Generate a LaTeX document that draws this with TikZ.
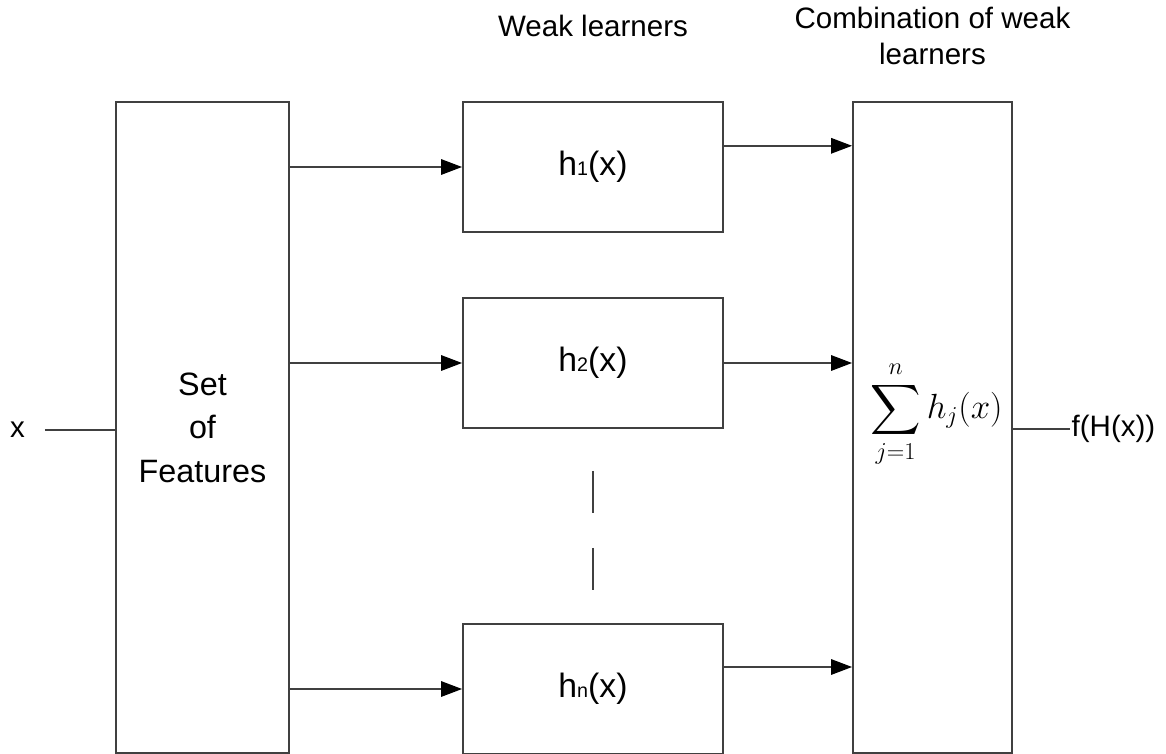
\documentclass[tikz,border=0pt]{standalone}
\usepackage{amsmath}
\usepackage{fontspec}
\setmainfont{Liberation Sans}
\usetikzlibrary{arrows.meta, positioning, calc}

% small index on the baseline, as in h1(x)
\newcommand{\wl}[1]{h{\fontsize{14}{14}\selectfont #1}(x)}

\begin{document}
\begin{tikzpicture}[
	box/.style={rectangle,draw=black!75,line width=1.3pt,inner sep=0pt,align=center},
	learner/.style={box,minimum width=6.5cm,minimum height=3.25cm,font=\fontsize{24}{28}\selectfont},
	arrow/.style={-{Triangle[length=15pt,width=11pt,color=black]},line width=1.3pt,draw=black!75},
	link/.style={line width=1.3pt,draw=black!75},
	lbl/.style={font=\fontsize{21}{26}\selectfont,align=center},
	]
	\useasboundingbox (0,0) rectangle (29.15,-18.85);
	
	% column headers
	\node[lbl,anchor=base] (wkhead) at (14.825,-0.925) {Weak learners};
	\node[lbl,anchor=north,inner sep=0pt] (cbhead) at (23.3125,-0.16) {Combination of weak\\learners};
	
	% feature box, weak learners and combiner
	\node[box,font=\fontsize{23}{31}\selectfont,minimum width=4.325cm,minimum height=16.275cm] (feat) at (5.0625,-10.6875) {Set\\of\\Features};
	\node[learner] (h1) at (14.825,-4.175) {\wl{1}};
	\node[learner] (h2) at (14.825,-9.075) {\wl{2}};
	\node[learner] (hn) at (14.825,-17.225) {\wl{n}};
	\node[box,minimum width=3.975cm,minimum height=16.275cm] (comb) at (23.3125,-10.6875) {};
	\node[font=\fontsize{24}{28}\selectfont] (sum) at ([xshift=0.1cm,yshift=0.33cm]comb.center) {$\displaystyle\sum_{j=1}^{n} h_j(x)$};
	
	% input and output
	\node[lbl,inner xsep=14pt] (xin) at (0.44,-10.75) {x};
	\node[lbl,anchor=west,inner sep=1pt] (out) at (26.75,-10.725) {f(H(x))};
	\draw[link] (xin.east) -- (xin.east -| feat.west);
	\draw[link] (out.west -| comb.east) -- (out.west);
	
	% features to learners
	\draw[arrow] (feat.east |- h1.west) -- (h1.west);
	\draw[arrow] (feat.east |- h2.west) -- (h2.west);
	\draw[arrow] (feat.east |- hn.west) -- (hn.west);
	
	% learners to combiner
	\coordinate (h1o) at ([yshift=0.53cm]h1.east);
	\coordinate (hno) at ([yshift=0.55cm]hn.east);
	\draw[arrow] (h1o) -- (h1o -| comb.west);
	\draw[arrow] (h2.east) -- (h2.east -| comb.west);
	\draw[arrow] (hno) -- (hno -| comb.west);
	
	% dots between h2 and hn
	\draw[link] ([yshift=-1.05cm]h2.south) -- ++(0,-1.05);
	\draw[link] ([yshift=-2.975cm]h2.south) -- ++(0,-1.05);
\end{tikzpicture}
\end{document}
